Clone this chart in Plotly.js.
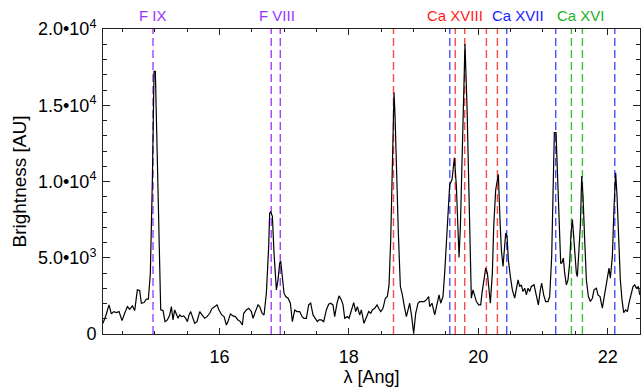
<!DOCTYPE html>
<html>
<head>
<meta charset="utf-8">
<script src="https://cdn.plot.ly/plotly-3.0.1.min.js"></script>
<style>html,body{margin:0;padding:0;background:#fff;}#chart{width:642px;height:387px;}</style>
</head>
<body>
<div id="chart"></div>
<script>
// Wavelength (Angstrom) and brightness (AU)
const wavelength = [
14.200,14.242,14.293,14.329,14.365,14.407,14.448,14.494,14.535,14.577,14.613,14.654,14.690,14.731,14.767,14.793,14.834,14.870,14.901,14.932,14.963,14.989,15.009,15.040,15.066,15.092,15.128,15.159,15.195,15.231,15.257,15.282,15.308,15.334,15.360,15.385,15.416,15.447,15.478,15.504,15.530,15.555,15.591,15.617,15.653,15.695,15.731,15.772,15.808,15.849,15.885,15.926,15.962,15.993,16.035,16.071,16.107,16.132,16.169,16.210,16.246,16.287,16.323,16.354,16.375,16.416,16.452,16.493,16.519,16.555,16.596,16.622,16.658,16.689,16.725,16.761,
16.776,16.792,16.818,16.843,16.880,16.905,16.931,16.947,16.967,16.998,17.024,17.060,17.096,17.127,17.163,17.199,17.240,17.276,17.307,17.343,17.379,17.410,17.446,17.482,17.513,17.539,17.575,17.611,17.652,17.688,17.719,17.755,17.781,17.817,17.848,17.884,17.910,17.936,17.977,18.003,18.039,18.075,18.106,18.132,18.167,18.193,18.234,18.271,18.307,18.338,18.363,18.399,18.435,18.461,18.492,18.528,18.564,18.595,18.621,18.647,18.667,18.683,18.698,18.714,18.734,18.765,18.796,18.827,18.858,18.889,18.915,18.940,18.971,19.002,19.033,19.069,19.095,19.131,19.162,19.198,19.234,
19.249,19.285,19.327,19.363,19.394,19.419,19.455,19.481,19.507,19.533,19.559,19.595,19.631,19.662,19.682,19.703,19.724,19.744,19.765,19.795,19.826,19.847,19.868,19.893,19.919,19.945,19.971,20.007,20.038,20.058,20.084,20.115,20.141,20.161,20.187,20.218,20.239,20.270,20.311,20.336,20.357,20.383,20.409,20.424,20.445,20.465,20.496,20.527,20.563,20.589,20.615,20.640,20.666,20.692,20.718,20.744,20.769,20.795,20.821,20.862,20.888,20.929,20.960,20.980,21.011,21.042,21.078,21.104,21.135,21.156,21.176,21.202,21.223,21.248,21.274,21.290,21.315,21.336,21.362,21.387,21.413,21.434,21.455,21.475,21.496,21.516,21.532,21.552,21.578,21.599,21.619,21.645,21.671,21.702,21.733,21.764,21.789,21.825,21.851,21.882,21.918,21.939,21.970,22.006,22.021,22.042,22.073,22.099,22.124,22.145,22.171,22.196,22.222,22.248,22.279,22.305,22.330,22.361,22.392,22.418,22.444,22.475,22.495
];
const brightness = [
704,1184,1908,1316,1469,1404,1469,877,1360,1799,1623,1842,1535,2895,2851,2018,2061,2281,2281,3992,10120,17220,17220,11010,5746,1579,1535,811,921,1250,1799,921,1579,1250,1031,1250,1140,1184,1031,811,1250,1469,1031,704,811,1469,1250,1031,1140,1360,1667,1799,1908,1579,1250,1140,592,811,1316,1184,1140,921,811,592,1360,1579,1689,1469,1031,1469,1908,1799,1360,1250,2676,5746,
7940,8006,7721,5307,2895,3553,4650,4760,3992,2676,2457,2347,2018,811,1579,1469,1469,1140,1031,1031,1908,2018,1250,1031,811,921,921,811,1579,1952,2018,1908,1140,2018,2500,2237,1908,1031,1140,1031,1579,2061,1469,1799,1250,1579,704,1140,1469,1360,1579,1689,1908,1689,1469,1689,2347,2457,3224,6185,10571,13642,15835,14300,10571,6624,3114,2566,1799,1140,1579,2018,1140,44,1360,2018,2128,2128,2128,2237,2457,
1799,2018,1250,1908,2566,2018,2457,3992,6185,7940,9804,10133,11559,9694,7721,5023,7063,10133,14519,19016,14958,10571,6185,2347,2895,2457,2128,1908,1908,2676,3553,4321,3992,3224,2018,3992,7063,9475,10462,7501,5527,4430,5746,6624,6404,4869,3772,2895,2347,3114,3553,3114,3224,2785,3004,2566,3004,2785,3114,3224,2676,1908,2895,3333,2566,2128,2128,2457,5088,9475,13204,13204,10571,7282,4650,4650,4979,3992,3224,3553,4650,6624,7501,6404,4869,3992,3772,5088,7063,10352,9037,6185,3553,2457,2128,2347,2895,3004,2566,2457,1689,2237,3114,3992,4321,3662,5088,8379,10571,9037,5746,3553,2237,1404,1579,1469,2018,2676,3114,3224,3004,3114,2566
];

// Line identifications
const ionNames = ["F IX", "F VIII", "Ca XVIII", "Ca XVII", "Ca XVI"];
const ionLines = [
  [14.973],
  [16.80, 16.94],
  [18.69, 19.645, 19.79, 20.126, 20.296],
  [19.56, 20.44, 21.197, 22.11],
  [21.44, 21.61]
];
const ionLabelX = [14.973, 16.888, 19.648, 20.614, 21.583];

// Axis ticks
const yTickVals = [0, 5000, 10000, 15000, 20000];
const yTickText = ["0", "5.0•10<sup>3</sup>", "1.0•10<sup>4</sup>", "1.5•10<sup>4</sup>", "2.0•10<sup>4</sup>"];

const lineColors = ["#a040ff", "#a040ff", "#ff4848", "#4850ff", "#38c038"];
const textColors = ["#9933ff", "#9933ff", "#ff1a1a", "#1a1aff", "#22b022"];

const shapes = [];
ionLines.forEach((arr, i) => {
  arr.forEach(x => {
    shapes.push({
      type: "line", xref: "x", yref: "paper", x0: x, x1: x, y0: 0, y1: 1,
      line: {color: lineColors[i], width: 1.4, dash: "8px,4px"}, layer: "below"
    });
  });
});

const annotations = ionNames.map((name, i) => ({
  text: name, x: ionLabelX[i], xref: "x", y: 1.045, yref: "paper",
  xanchor: "center", yanchor: "middle", showarrow: false,
  font: {family: "Liberation Sans, Arial, sans-serif", size: 15, color: textColors[i]}
}));

const trace = {
  x: wavelength, y: brightness, type: "scatter", mode: "lines",
  line: {color: "#000", width: 1.2}, hoverinfo: "skip"
};

const fontFam = "Liberation Sans, Arial, sans-serif";
const layout = {
  width: 642, height: 387,
  margin: {l: 103, r: 2, t: 29, b: 53, pad: 0},
  paper_bgcolor: "#fff", plot_bgcolor: "#fff",
  showlegend: false,
  font: {family: fontFam, size: 18, color: "#000"},
  xaxis: {
    range: [14.2, 22.5], dtick: 2, tick0: 0,
    ticks: "inside", ticklen: 6, tickwidth: 1, tickcolor: "#222",
    minor: {dtick: 0.5, tick0: 0, ticks: "inside", ticklen: 3, tickcolor: "#222"},
    showline: true, linecolor: "#222", linewidth: 1, mirror: "ticks",
    showgrid: false, zeroline: false,
    tickfont: {family: fontFam, size: 18, color: "#000"},
    ticklabelstandoff: 6,
    title: {text: "λ [Ang]", font: {family: fontFam, size: 18, color: "#000"}, standoff: 4}
  },
  yaxis: {
    range: [0, 20000], tickvals: yTickVals, ticktext: yTickText,
    ticks: "inside", ticklen: 7, tickwidth: 1, tickcolor: "#222",
    minor: {dtick: 1000, tick0: 0, ticks: "inside", ticklen: 4, tickcolor: "#222"},
    showline: true, linecolor: "#222", linewidth: 1, mirror: "ticks",
    showgrid: false, zeroline: false,
    tickfont: {family: fontFam, size: 18, color: "#000"},
    ticklabelstandoff: 2,
    title: {text: "Brightness [AU]", font: {family: fontFam, size: 19, color: "#000"}, standoff: 6}
  },
  shapes: shapes,
  annotations: annotations
};

Plotly.newPlot("chart", [trace], layout, {staticPlot: true, displayModeBar: false});
</script>
</body>
</html>
